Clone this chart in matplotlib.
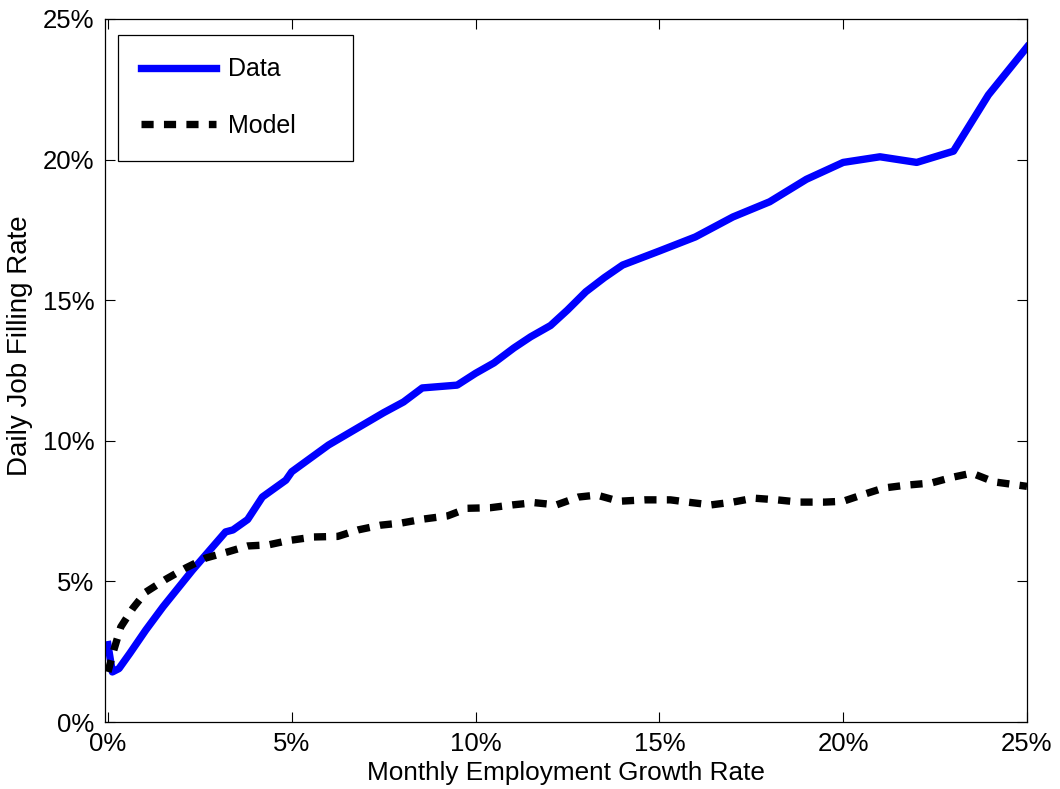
import numpy as np
import matplotlib.pyplot as plt
from matplotlib.ticker import FuncFormatter

plt.rcParams['font.family'] = ['Liberation Sans', 'DejaVu Sans']

# --- Dati (in %) ---
data_x = [0.0, 0.12, 0.3, 0.6, 1.03, 1.5, 2.3, 3.2, 3.4, 3.8, 4.2, 4.84, 5.0,
          6.0, 7.5, 8.04, 8.55, 9.5, 10.0, 10.5, 11.04, 11.5, 12.04, 12.5,
          13.0, 13.5, 14.0, 14.5, 15.0, 15.98, 17.0, 18.0, 19.0, 20.0, 21.0,
          22.0, 23.0, 23.95, 25.0]
data_y = [2.75, 1.78, 1.9, 2.45, 3.27, 4.1, 5.4, 6.76, 6.83, 7.2, 8.0, 8.6, 8.9,
          9.85, 11.0, 11.38, 11.88, 11.98, 12.4, 12.77, 13.3, 13.7, 14.1, 14.65,
          15.3, 15.8, 16.25, 16.5, 16.75, 17.25, 17.96, 18.5, 19.3, 19.9, 20.1,
          19.9, 20.3, 22.3, 24.0]

model_x = [0.0, 0.16, 0.35, 0.68, 1.03, 1.58, 2.12, 2.66, 3.26, 3.8, 4.37, 4.9,
           5.6, 6.25, 6.8, 7.42, 8.0, 8.6, 9.24, 9.78, 10.4, 11.0, 11.6, 12.2,
           12.8, 13.3, 13.9, 14.6, 15.3, 15.76, 16.4, 17.0, 17.57, 18.2, 18.8,
           19.5, 20.0, 20.5, 21.1, 21.7, 22.4, 22.96, 23.5, 24.1, 25.0]
model_y = [1.78, 2.56, 3.38, 4.05, 4.62, 5.08, 5.48, 5.83, 6.05, 6.26, 6.3, 6.45,
           6.58, 6.6, 6.83, 7.0, 7.08, 7.22, 7.33, 7.6, 7.62, 7.72, 7.8, 7.72,
           8.0, 8.07, 7.85, 7.9, 7.9, 7.82, 7.72, 7.82, 7.96, 7.9, 7.82,
           7.82, 7.85, 8.07, 8.32, 8.42, 8.5, 8.7, 8.85, 8.54, 8.38]

ticks = [0, 5, 10, 15, 20, 25]

# --- Grafico ---
fig = plt.figure(figsize=(10.6, 7.89), dpi=100)
ax = fig.add_axes([105 / 1060, 67 / 789, 922 / 1060, 703 / 789])

# spazi finali: il riquadro della legenda in stile MATLAB e' piu' largo
ax.plot(data_x, data_y, color='#0000ff', lw=5.3, label='Data' + ' ' * 5,
        solid_joinstyle='round')
ax.plot(model_x, model_y, color='black', lw=5.3, linestyle=(0, (1.65, 1.4)),
        label='Model' + ' ' * 5)

ax.set_xlim(-0.08, 25)
ax.set_ylim(0, 25)
ax.set_xticks(ticks)
ax.set_yticks(ticks)
pct = FuncFormatter(lambda v, p: '%d%%' % v)
ax.xaxis.set_major_formatter(pct)
ax.yaxis.set_major_formatter(pct)
ax.tick_params(direction='in', top=True, right=True, length=7, width=0.8,
               labelsize=18.5, pad=7.5)
for s in ax.spines.values():
    s.set_linewidth(0.9)

ax.set_xlabel('Monthly Employment Growth Rate', fontsize=18.8, labelpad=3.5)
ax.set_ylabel('Daily Job Filling Rate', fontsize=20)
ax.yaxis.set_label_coords(-0.078, 0.535)

leg = ax.legend(loc='upper left', fontsize=18, fancybox=False, edgecolor='black',
                framealpha=1, handlelength=3.0, handletextpad=0.5,
                labelspacing=1.3, borderpad=0.9, borderaxespad=0,
                bbox_to_anchor=(13 / 922, 1 - 16 / 703))
leg.get_frame().set_linewidth(0.9)

fig.savefig('out.png', dpi=100)
